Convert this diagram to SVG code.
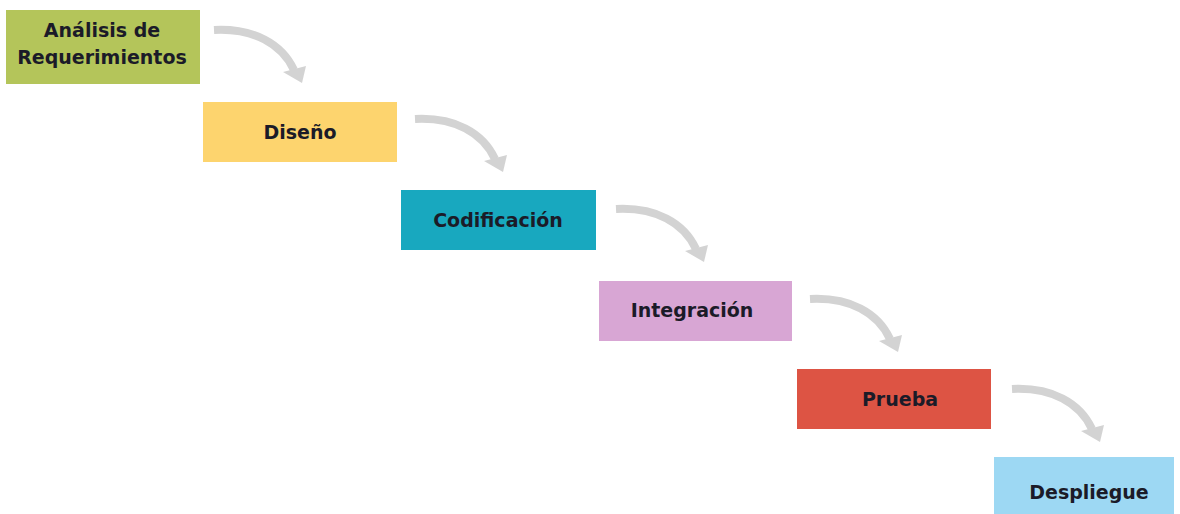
<svg xmlns="http://www.w3.org/2000/svg" width="1180" height="514" viewBox="0 0 1180 514">
<style>
.lbl{font-family:"DejaVu Sans","Liberation Sans",sans-serif;font-weight:bold;font-size:19px;fill:#1b1b28;text-anchor:middle}
.arr{fill:none;stroke:#d3d3d3;stroke-width:8;stroke-linecap:butt}
.head{fill:#d3d3d3}
</style>
<defs>
<g id="arrow">
<path class="arr" d="M0,2 C40,0 68,16 80,42"/>
<polygon class="head" points="69,44 92,38 88,55"/>
</g>
</defs>
<rect width="1180" height="514" fill="#ffffff"/>
<g id="connectors">
<use href="#arrow" x="214" y="28"/>
<use href="#arrow" x="415" y="117"/>
<use href="#arrow" x="616" y="207"/>
<use href="#arrow" x="810" y="297"/>
<use href="#arrow" x="1012" y="387"/>
</g>
<g id="analisis">
<rect x="6" y="10" width="194" height="74" fill="#b4c55a"/>
<text class="lbl" x="102" y="37">Análisis de</text>
<text class="lbl" x="102" y="64">Requerimientos</text>
</g>
<g id="diseno">
<rect x="203" y="102" width="194" height="60" fill="#fdd46e"/>
<text class="lbl" x="300" y="139">Diseño</text>
</g>
<g id="codificacion">
<rect x="401" y="190" width="195" height="60" fill="#18a8bf"/>
<text class="lbl" x="498" y="227">Codificación</text>
</g>
<g id="integracion">
<rect x="599" y="281" width="193" height="60" fill="#d8a6d4"/>
<text class="lbl" x="692" y="317">Integración</text>
</g>
<g id="prueba">
<rect x="797" y="369" width="194" height="60" fill="#dd5444"/>
<text class="lbl" x="900" y="406">Prueba</text>
</g>
<g id="despliegue">
<rect x="994" y="457" width="180" height="57" fill="#9dd8f3"/>
<text class="lbl" x="1089" y="499">Despliegue</text>
</g>
</svg>
